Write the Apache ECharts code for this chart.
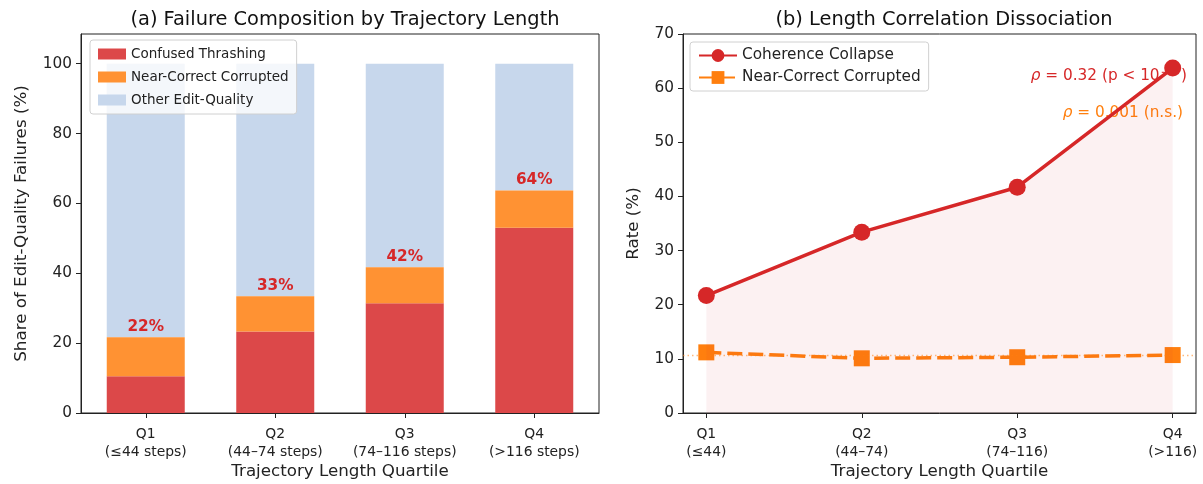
<!DOCTYPE html>
<html>
<head>
<meta charset="utf-8">
<script src="https://cdn.jsdelivr.net/npm/echarts@6/dist/echarts.min.js"></script>
<style>html,body{margin:0;padding:0;background:#fff}#c{width:1203px;height:484px}</style>
</head>
<body>
<div id="c"></div>
<script>
// ---- data ----
const quartiles = ['Q1', 'Q2', 'Q3', 'Q4'];
const barTickLabels = ['Q1\n(≤44 steps)', 'Q2\n(44–74 steps)', 'Q3\n(74–116 steps)', 'Q4\n(>116 steps)'];
const lineTickLabels = ['Q1\n(≤44)', 'Q2\n(44–74)', 'Q3\n(74–116)', 'Q4\n(>116)'];
const confusedThrashing = [10.5, 23.3, 31.4, 53.0];
const nearCorrectCorrupted = [11.2, 10.1, 10.3, 10.7];
const coherenceCollapse = [21.7, 33.4, 41.7, 63.7];
const otherEditQuality = [78.3, 66.6, 58.3, 36.3];
const barPctLabels = ['22%', '33%', '42%', '64%'];
const nearCorrectMean = 10.58;
const leftYTicks = [0, 20, 40, 60, 80, 100];
const rightYTicks = [0, 10, 20, 30, 40, 50, 60, 70];

const FONT = 'DejaVu Sans';
const chart = echarts.init(document.getElementById('c'), null, {renderer: 'canvas'});

const idx = quartiles.map((q, i) => i);
const pairs = arr => arr.map((v, i) => [idx[i], v]);

const lineC = '#222';
const tickStyle = {show: true, inside: false, length: 5, lineStyle: {color: lineC, width: 1}};

const option = {
  animation: false,
  textStyle: {fontFamily: FONT},
  title: [
    {text: '(a) Failure Composition by Trajectory Length', left: 340, top: 5, textAlign: 'center',
     textStyle: {fontFamily: FONT, fontSize: 19.4, fontWeight: 'normal', color: '#111'}},
    {text: '(b) Length Correlation Dissociation', left: 939, top: 5, textAlign: 'center',
     textStyle: {fontFamily: FONT, fontSize: 19.4, fontWeight: 'normal', color: '#111'}}
  ],
  grid: [
    {left: 81, right: 604, top: 34, bottom: 71, show: true, borderColor: lineC, borderWidth: 1,
     containLabel: false, outerBoundsMode: 'none'},
    {left: 683, right: 7, top: 34, bottom: 71, show: true, borderColor: lineC, borderWidth: 1,
     containLabel: false, outerBoundsMode: 'none'}
  ],
  legend: [
    {
      data: ['Confused Thrashing', 'Near-Correct Corrupted', 'Other Edit-Quality'],
      orient: 'vertical', left: 90, top: 40, itemWidth: 28, itemHeight: 11, itemGap: 9,
      icon: 'rect', padding: [7, 8, 7, 8],
      backgroundColor: 'rgba(255,255,255,0.8)', borderColor: '#d0d0d0', borderWidth: 1, borderRadius: 3,
      textStyle: {fontFamily: FONT, fontSize: 13.5, color: '#222'},
      selectedMode: false
    },
    {
      data: ['Coherence Collapse', 'Near-Correct Corrupted (rate)'],
      orient: 'vertical', left: 690, top: 42, itemWidth: 38, itemHeight: 16, itemGap: 7,
      padding: [6, 8, 6, 8],
      backgroundColor: 'rgba(255,255,255,0.8)', borderColor: '#d0d0d0', borderWidth: 1, borderRadius: 3,
      textStyle: {fontFamily: FONT, fontSize: 15.3, color: '#222'},
      formatter: n => n.replace(' (rate)', ''),
      selectedMode: false
    }
  ],
  xAxis: [
    {
      type: 'category', gridIndex: 0, data: barTickLabels, boundaryGap: true,
      axisLine: {show: true, lineStyle: {color: lineC, width: 1}},
      axisTick: Object.assign({}, tickStyle, {alignWithLabel: true}),
      splitLine: {show: false},
      axisLabel: {fontFamily: FONT, fontSize: 13.9, color: '#222', lineHeight: 18, margin: 12, interval: 0},
      name: 'Trajectory Length Quartile', nameLocation: 'middle', nameGap: 50, nameMoveOverlap: false,
      nameTextStyle: {fontFamily: FONT, fontSize: 16.7, color: '#222'}
    },
    {
      type: 'value', gridIndex: 1, min: -0.15, max: 3.15,
      axisLine: {show: true, onZero: false, lineStyle: {color: lineC, width: 1}},
      axisTick: Object.assign({}, tickStyle, {customValues: idx}),
      splitLine: {show: false},
      axisLabel: {customValues: idx, formatter: v => lineTickLabels[Math.round(v)] || '',
        fontFamily: FONT, fontSize: 13.9, color: '#222', lineHeight: 18, margin: 12},
      name: 'Trajectory Length Quartile', nameLocation: 'middle', nameGap: 50, nameMoveOverlap: false,
      nameTextStyle: {fontFamily: FONT, fontSize: 16.7, color: '#222'}
    }
  ],
  yAxis: [
    {
      type: 'value', gridIndex: 0, min: 0, max: 108.5,
      axisLine: {show: true, onZero: false, lineStyle: {color: lineC, width: 1}},
      axisTick: Object.assign({}, tickStyle, {customValues: leftYTicks}),
      splitLine: {show: false},
      axisLabel: {customValues: leftYTicks, fontFamily: FONT, fontSize: 15.3, color: '#222', margin: 9},
      name: 'Share of Edit-Quality Failures (%)', nameLocation: 'middle', nameGap: 51, nameMoveOverlap: false,
      nameTextStyle: {fontFamily: FONT, fontSize: 16.7, color: '#222'}
    },
    {
      type: 'value', gridIndex: 1, min: 0, max: 70, interval: 10,
      axisLine: {show: true, onZero: false, lineStyle: {color: lineC, width: 1}},
      axisTick: Object.assign({}, tickStyle, {customValues: rightYTicks}),
      splitLine: {show: false},
      axisLabel: {customValues: rightYTicks, fontFamily: FONT, fontSize: 15.3, color: '#222', margin: 9},
      name: 'Rate (%)', nameLocation: 'middle', nameGap: 41, nameMoveOverlap: false,
      nameTextStyle: {fontFamily: FONT, fontSize: 16.7, color: '#222'}
    }
  ],
  series: [
    {
      name: 'Confused Thrashing', type: 'bar', xAxisIndex: 0, yAxisIndex: 0, stack: 'a',
      barWidth: 78, data: confusedThrashing,
      itemStyle: {color: '#dc4849'}
    },
    {
      name: 'Near-Correct Corrupted', type: 'bar', xAxisIndex: 0, yAxisIndex: 0, stack: 'a',
      barWidth: 78, data: nearCorrectCorrupted,
      itemStyle: {color: '#ff9233'},
      label: {show: true, position: 'top', distance: 3, formatter: p => barPctLabels[p.dataIndex],
        fontFamily: FONT, fontSize: 15.3, fontWeight: 'bold', color: '#d62728'},
      z: 3
    },
    {
      name: 'Other Edit-Quality', type: 'bar', xAxisIndex: 0, yAxisIndex: 0, stack: 'a',
      barWidth: 78, data: otherEditQuality,
      itemStyle: {color: '#c7d7ec'},
      z: 1
    },
    {
      name: 'Coherence Collapse', type: 'line', xAxisIndex: 1, yAxisIndex: 1,
      data: pairs(coherenceCollapse), symbol: 'circle', symbolSize: 17,
      lineStyle: {color: '#d62728', width: 3.5},
      itemStyle: {color: '#d62728'},
      areaStyle: {color: 'rgba(214,39,40,0.09)', origin: 'start'},
      z: 4
    },
    {
      name: 'Near-Correct Corrupted (rate)', type: 'line', xAxisIndex: 1, yAxisIndex: 1,
      data: pairs(nearCorrectCorrupted), symbol: 'rect', symbolSize: 16,
      lineStyle: {color: '#ff7f0e', width: 3.5, type: [15, 6]},
      itemStyle: {color: '#ff7f0e'},
      z: 3,
      markLine: {
        silent: true, symbol: 'none', label: {show: false},
        lineStyle: {color: 'rgba(255,127,14,0.55)', width: 1.4, type: [1.5, 3]},
        data: [{yAxis: nearCorrectMean}]
      }
    }
  ],
  graphic: [
    {type: 'text', right: 16, top: 66, z: 0, zlevel: 0,
     style: {text: '{i|ρ} = 0.32 (p < 10{s|−7})', fill: '#d62728', font: '15.3px "DejaVu Sans"',
       rich: {i: {fontStyle: 'italic', fontSize: 15.3, fontFamily: FONT, fill: '#d62728'},
              s: {fontSize: 12.5, fontFamily: FONT, verticalAlign: 'top', padding: [0, 2, 8, 1], fill: '#d62728'}}}},
    {type: 'text', right: 20, top: 106, z: 0, zlevel: 0,
     style: {text: '{i|ρ} = 0.001 (n.s.)', fill: '#ff7f0e', font: '15.3px "DejaVu Sans"',
       rich: {i: {fontStyle: 'italic', fontSize: 15.3, fontFamily: FONT, fill: '#ff7f0e'}}}}
  ]
};
chart.setOption(option);
</script>
</body>
</html>
